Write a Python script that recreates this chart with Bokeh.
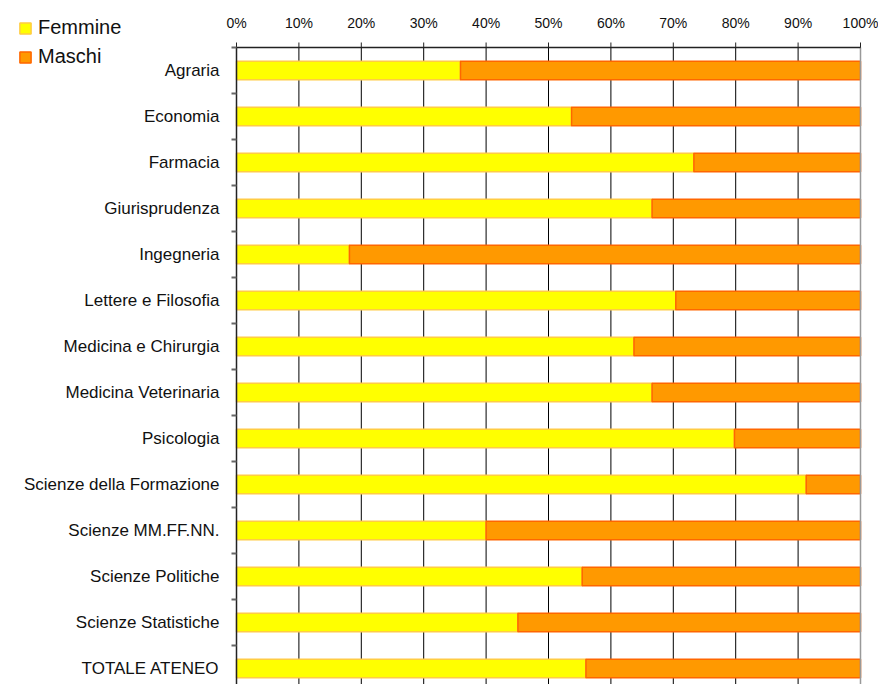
import math
from bokeh.plotting import figure
from bokeh.models import Range1d, Legend, LegendItem, ColumnDataSource
from bokeh.core.properties import value
from bokeh.embed import file_html
from bokeh.resources import INLINE

categories = ["Agraria", "Economia", "Farmacia", "Giurisprudenza", "Ingegneria",
              "Lettere e Filosofia", "Medicina e Chirurgia", "Medicina Veterinaria",
              "Psicologia", "Scienze della Formazione", "Scienze MM.FF.NN.",
              "Scienze Politiche", "Scienze Statistiche", "TOTALE ATENEO"]
femmine = [35.9, 53.7, 73.3, 66.6, 18.1, 70.4, 63.7, 66.6, 79.8, 91.3, 40.0, 55.4, 45.1, 56.0]
maschi = [round(100 - f, 1) for f in femmine]
x_ticks = [0, 10, 20, 30, 40, 50, 60, 70, 80, 90, 100]
x_tick_labels = ["0%", "10%", "20%", "30%", "40%", "50%", "60%", "70%", "80%", "90%", "100%"]

FONT = "Liberation Sans"
W, H = 878, 684
LEFT_PX, RIGHT_PX, TOP_PX, BAND_PX = 236, 860, 47, 46

n = len(categories)
sx = (RIGHT_PX - LEFT_PX) / 100.0
x0 = -LEFT_PX / sx
x1 = x0 + W / sx
ytop = n + TOP_PX / BAND_PX
ybot = n - (H - TOP_PX) / BAND_PX

ypos = [n - i - 0.5 for i in range(n)]
src = ColumnDataSource(dict(y=ypos, cat=categories, f=femmine, m=maschi,
                            fm=[a + b for a, b in zip(femmine, maschi)]))

p = figure(width=W, height=H, output_backend="svg", toolbar_location=None,
           x_range=Range1d(x0, x1), y_range=Range1d(ybot, ytop),
           min_border=0, min_border_left=0, min_border_right=0,
           min_border_top=0, min_border_bottom=0)
p.axis.visible = False
p.grid.visible = False
p.outline_line_color = None

# vertical grid lines
p.segment(x0=x_ticks, y0=[0] * len(x_ticks), x1=x_ticks, y1=[n] * len(x_ticks),
          line_color="#000000", line_width=1)

rf = p.hbar(y="y", left=0, right="f", height=0.4, source=src,
            fill_color="#FFFF00", line_color="#FFCC44", line_width=1.5)
rm = p.hbar(y="y", left="f", right="fm", height=0.4, source=src,
            fill_color="#FF9900", line_color="#FF6600", line_width=1.5)

# right border
p.segment(x0=[100], y0=[0], x1=[100], y1=[n], line_color="#999999", line_width=1.5)
# top axis line + ticks
p.segment(x0=[0], y0=[n], x1=[100], y1=[n], line_color="#222222", line_width=1.5)
p.ray(x=x_ticks, y=[n] * len(x_ticks), length=5, length_units="screen",
      angle=math.pi / 2, line_color="#222222", line_width=1)
p.text(x=x_ticks, y=[n] * len(x_ticks), text=x_tick_labels, y_offset=-25,
       text_align="center", text_baseline="middle", text_font=value(FONT),
       text_font_size=value("14px"), text_color="#111111")

# left axis line + boundary ticks
p.segment(x0=[0], y0=[0], x1=[0], y1=[n], line_color="#222222", line_width=1.5)
bounds = list(range(0, n + 1))
p.ray(x=[0] * len(bounds), y=bounds, length=5, length_units="screen",
      angle=math.pi, line_color="#666666", line_width=2)
p.text(x=[0] * n, y=ypos, text=categories, x_offset=-17,
       text_align="right", text_baseline="middle", text_font=value(FONT),
       text_font_size=value("17px"), text_color="#111111")

legend = Legend(items=[LegendItem(label="Femmine", renderers=[rf]),
                       LegendItem(label="Maschi", renderers=[rm])],
                location=(18, 616), orientation="vertical",
                glyph_width=14, glyph_height=14, label_standoff=6, spacing=6,
                padding=0, margin=0, border_line_color=None, background_fill_alpha=0,
                label_text_font=FONT, label_text_font_size="20px", label_text_color="#111111")
p.add_layout(legend, "center")

open("out.html", "w").write(file_html(p, INLINE))
